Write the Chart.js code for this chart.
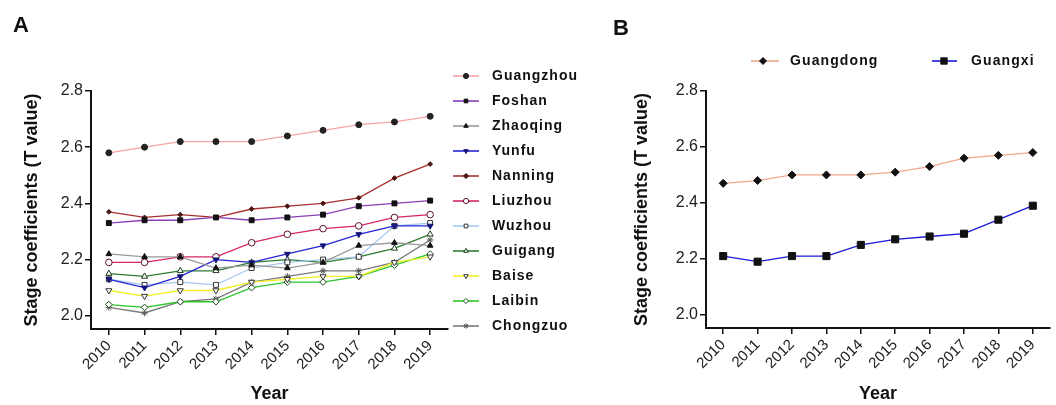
<!DOCTYPE html>
<html>
<head>
<meta charset="utf-8">
<script src="https://cdn.jsdelivr.net/npm/chart.js@4/dist/chart.umd.min.js"></script>
<style>
    body { margin: 0; background: #fff; width: 1056px; height: 405px; position: relative; overflow: hidden; font-family: "Liberation Sans", Arial, sans-serif; }
    #wrapA { position: absolute; left: 0; top: 0; width: 600px; height: 405px; }
    #wrapB { position: absolute; left: 600px; top: 0; width: 456px; height: 405px; }
    .tag { position: absolute; font-weight: bold; font-size: 22px; line-height: 1; color: #111; z-index: 2; }
</style>
</head>
<body>
<div class="tag" style="left:13px;top:14px">A</div>
<div class="tag" style="left:613px;top:17px">B</div>
<div id="wrapA"><canvas id="chartA" width="600" height="405"></canvas></div>
<div id="wrapB"><canvas id="chartB" width="456" height="405"></canvas></div>
<script>
const years = ["2010", "2011", "2012", "2013", "2014", "2015", "2016", "2017", "2018", "2019"];
const yTicks = [2.0, 2.2, 2.4, 2.6, 2.8];

// Panel A: cities
const guangzhou = [2.58, 2.60, 2.62, 2.62, 2.62, 2.64, 2.66, 2.68, 2.69, 2.71];
const foshan    = [2.33, 2.34, 2.34, 2.35, 2.34, 2.35, 2.36, 2.39, 2.40, 2.41];
const zhaoqing  = [2.22, 2.21, 2.21, 2.17, 2.18, 2.17, 2.19, 2.25, 2.26, 2.25];
const yunfu     = [2.13, 2.10, 2.14, 2.20, 2.19, 2.22, 2.25, 2.29, 2.32, 2.32];
const nanning   = [2.37, 2.35, 2.36, 2.35, 2.38, 2.39, 2.40, 2.42, 2.49, 2.54];
const liuzhou   = [2.19, 2.19, 2.21, 2.21, 2.26, 2.29, 2.31, 2.32, 2.35, 2.36];
const wuzhou    = [2.13, 2.11, 2.12, 2.11, 2.17, 2.19, 2.20, 2.21, 2.32, 2.33];
const guigang   = [2.15, 2.14, 2.16, 2.16, 2.19, 2.20, 2.19, 2.21, 2.24, 2.29];
const baise     = [2.09, 2.07, 2.09, 2.09, 2.12, 2.13, 2.14, 2.14, 2.19, 2.21];
const laibin    = [2.04, 2.03, 2.05, 2.05, 2.10, 2.12, 2.12, 2.14, 2.18, 2.22];
const chongzuo  = [2.03, 2.01, 2.05, 2.06, 2.12, 2.14, 2.16, 2.16, 2.19, 2.27];

// Panel B: provinces
const guangdong = [2.47, 2.48, 2.50, 2.50, 2.50, 2.51, 2.53, 2.56, 2.57, 2.58];
const guangxi   = [2.21, 2.19, 2.21, 2.21, 2.25, 2.27, 2.28, 2.29, 2.34, 2.39];

const FONT = '"Liberation Sans", Arial, sans-serif';

function series(label, data, line, style, fill, edge, radius, rot) {
    return {
        label: label, data: data,
        borderColor: line, borderWidth: 1.3,
        pointStyle: style, pointRotation: rot || 0,
        pointRadius: radius, pointBackgroundColor: fill,
        pointBorderColor: edge, pointBorderWidth: 1,
        tension: 0, fill: false
    };
}

// draws legend entries (line + marker + label) at given spots
function legendPlugin(id, spots, font, spacing) {
    return {
        id: id,
        afterDraw(chart) {
            const ctx = chart.ctx;
            chart.data.datasets.forEach((ds, i) => {
                const s = spots[i];
                ctx.save();
                ctx.strokeStyle = ds.borderColor;
                ctx.lineWidth = 1.6;
                ctx.beginPath();
                ctx.moveTo(s.x0, s.y);
                ctx.lineTo(s.x1, s.y);
                ctx.stroke();
                ctx.fillStyle = ds.pointBackgroundColor;
                ctx.strokeStyle = ds.pointBorderColor;
                ctx.lineWidth = 1;
                Chart.helpers.drawPoint(ctx, {
                    pointStyle: ds.pointStyle, rotation: ds.pointRotation,
                    radius: s.r, borderWidth: 1
                }, s.xm, s.y);
                ctx.fillStyle = "#111";
                ctx.font = font;
                ctx.letterSpacing = spacing;
                ctx.textBaseline = "middle";
                ctx.fillText(ds.label, s.xt, s.y);
                ctx.restore();
            });
        }
    };
}

function axes(yWidth, yTitlePad, xHeight) {
    return {
        x: {
            offset: true,
            afterFit: s => { s.height = xHeight; },
            border: { color: "#111", width: 2 },
            grid: { drawOnChartArea: false, drawTicks: true, tickLength: 6, color: "#111", lineWidth: 1.5 },
            ticks: { color: "#222", font: { family: FONT, size: 15 }, maxRotation: 45, minRotation: 45, padding: 2 },
            title: { display: true, text: "Year", color: "#111", font: { family: FONT, size: 18, weight: "bold" }, padding: { top: 1, bottom: 0 } }
        },
        y: {
            min: 1.953, max: 2.8,
            afterBuildTicks: s => { s.ticks = yTicks.map(v => ({ value: v })); },
            afterFit: s => { s.width = yWidth; },
            border: { color: "#111", width: 2 },
            grid: { drawOnChartArea: false, drawTicks: true, tickLength: 6, color: "#111", lineWidth: 1.5 },
            ticks: { color: "#222", font: { family: FONT, size: 16 }, padding: 2, callback: v => v.toFixed(1) },
            title: { display: true, text: "Stage coefficients (T value)", color: "#111", font: { family: FONT, size: 18, weight: "bold" }, padding: { top: yTitlePad, bottom: 0 } }
        }
    };
}

const spotsA = [];
for (let i = 0; i < 11; i++) {
    spotsA.push({ x0: 453, x1: 479, xm: 466, r: 2.6, xt: 492, y: 76 + i * 25 });
}

new Chart(document.getElementById("chartA"), {
    type: "line",
    data: {
        labels: years,
        datasets: [
            series("Guangzhou", guangzhou, "#f4a3a3", "circle", "#222", "#222", 3),
            series("Foshan", foshan, "#8b3fb8", "rect", "#111", "#111", 3.5),
            series("Zhaoqing", zhaoqing, "#9a9a9a", "triangle", "#111", "#111", 3.3),
            series("Yunfu", yunfu, "#2525d5", "triangle", "#14147a", "#14147a", 3.3, 180),
            series("Nanning", nanning, "#a83030", "rectRot", "#4a1515", "#4a1515", 2.4),
            series("Liuzhou", liuzhou, "#d8266c", "circle", "#fff", "#5a1030", 3.3),
            series("Wuzhou", wuzhou, "#a8c8f0", "rect", "#fff", "#333", 3.5),
            series("Guigang", guigang, "#2e7d32", "triangle", "#fff", "#1b3b1b", 3.5),
            series("Baise", baise, "#f2f020", "triangle", "#fff", "#333", 3.5, 180),
            series("Laibin", laibin, "#2bc52b", "rectRot", "#fff", "#1b4b1b", 3.3),
            series("Chongzuo", chongzuo, "#7a7a7a", "star", "#555", "#555", 3.3)
        ]
    },
    options: {
        responsive: false,
        animation: false,
        layout: { padding: { left: 0, top: 91, right: 152, bottom: 0 } },
        plugins: { legend: { display: false }, tooltip: { enabled: false } },
        scales: axes(91, 21, 76)
    },
    plugins: [legendPlugin("legendA", spotsA, "bold 14px " + FONT, "1px")]
});

const spotsB = [
    { x0: 151, x1: 179, xm: 163, r: 3.5, xt: 190, y: 61 },
    { x0: 332, x1: 357, xm: 344, r: 4.5, xt: 371, y: 61 }
];

new Chart(document.getElementById("chartB"), {
    type: "line",
    data: {
        labels: years,
        datasets: [
            series("Guangdong", guangdong, "#f0a888", "rectRot", "#111", "#111", 4),
            series("Guangxi", guangxi, "#1a1ad8", "rect", "#111", "#111", 5)
        ]
    },
    options: {
        responsive: false,
        animation: false,
        layout: { padding: { left: 0, top: 91, right: 6, bottom: 0 } },
        plugins: { legend: { display: false }, tooltip: { enabled: false } },
        scales: axes(106, 31, 77)
    },
    plugins: [legendPlugin("legendB", spotsB, "bold 14px " + FONT, "1.1px")]
});
</script>
</body>
</html>
